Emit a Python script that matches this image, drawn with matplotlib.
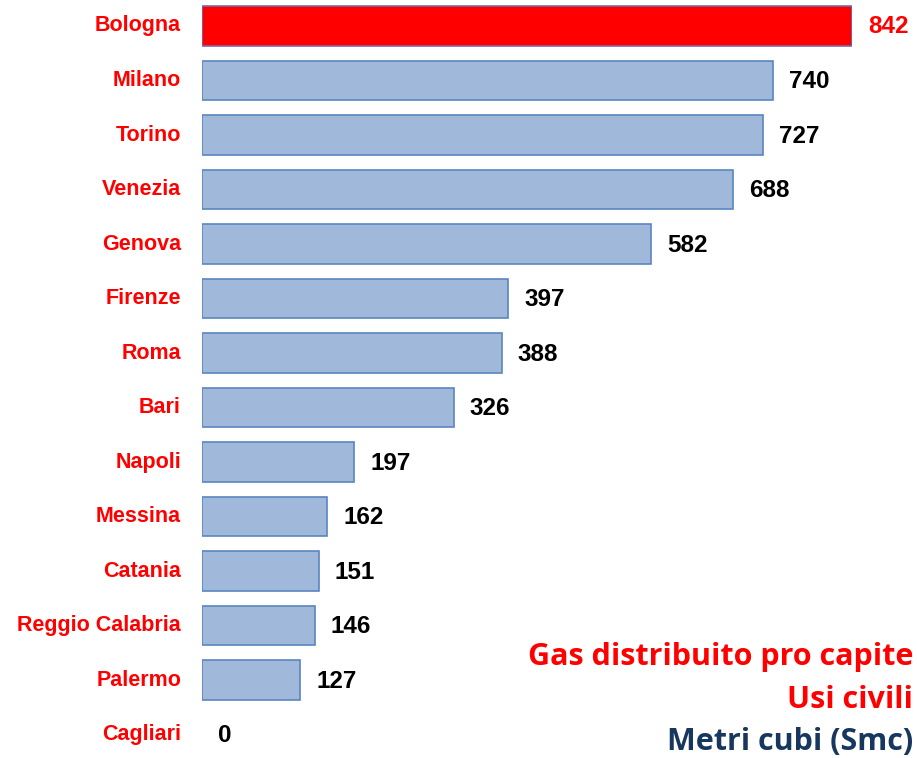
import matplotlib.pyplot as plt

cities = ['Bologna', 'Milano', 'Torino', 'Venezia', 'Genova', 'Firenze', 'Roma',
          'Bari', 'Napoli', 'Messina', 'Catania', 'Reggio Calabria', 'Palermo', 'Cagliari']
values = [842, 740, 727, 688, 582, 397, 388, 326, 197, 162, 151, 146, 127, 0]

plt.rcParams['font.family'] = ['Liberation Sans', 'DejaVu Sans']

fig = plt.figure(figsize=(9.17, 7.58), dpi=100)
ax = fig.add_axes([202 / 917, 0, 650 / 917, 1])

pos = list(range(len(cities)))
colors = ['#FF0000' if c == 'Bologna' else '#A0B9DB' for c in cities]
edges = ['#7A6AA6' if c == 'Bologna' else '#5A86C0' for c in cities]
widths = [1.2 if v > 0 else 0 for v in values]
ax.barh(pos, values, height=0.73, color=colors, edgecolor=edges, linewidth=widths)

ax.set_xlim(0, 842)
ax.set_ylim(13.43, -0.477)
ax.axis('off')

for i, (c, v) in enumerate(zip(cities, values)):
    ax.annotate(c, xy=(0, i), xytext=(-21, 0), textcoords='offset pixels',
                ha='right', va='center', fontsize=15.5, fontweight='bold',
                color='#FF0000', annotation_clip=False)
    ax.annotate(str(v), xy=(v, i), xytext=(16, -1), textcoords='offset pixels',
                ha='left', va='center', fontsize=17.5, fontweight='bold',
                color='#FF0000' if c == 'Bologna' else 'black', annotation_clip=False)

fig.text(913 / 917, 1 - 657 / 758, 'Gas distribuito pro capite', ha='right', va='center',
         fontsize=22, fontweight='bold', color='#FF0000', family=['Open Sans', 'DejaVu Sans'])
fig.text(913 / 917, 1 - 700 / 758, 'Usi civili', ha='right', va='center',
         fontsize=22, fontweight='bold', color='#FF0000', family=['Open Sans', 'DejaVu Sans'])
fig.text(913 / 917, 1 - 742 / 758, 'Metri cubi (Smc)', ha='right', va='center',
         fontsize=22, fontweight='bold', color='#17375E', family=['Open Sans', 'DejaVu Sans'])

fig.savefig('out.png', dpi=100)
